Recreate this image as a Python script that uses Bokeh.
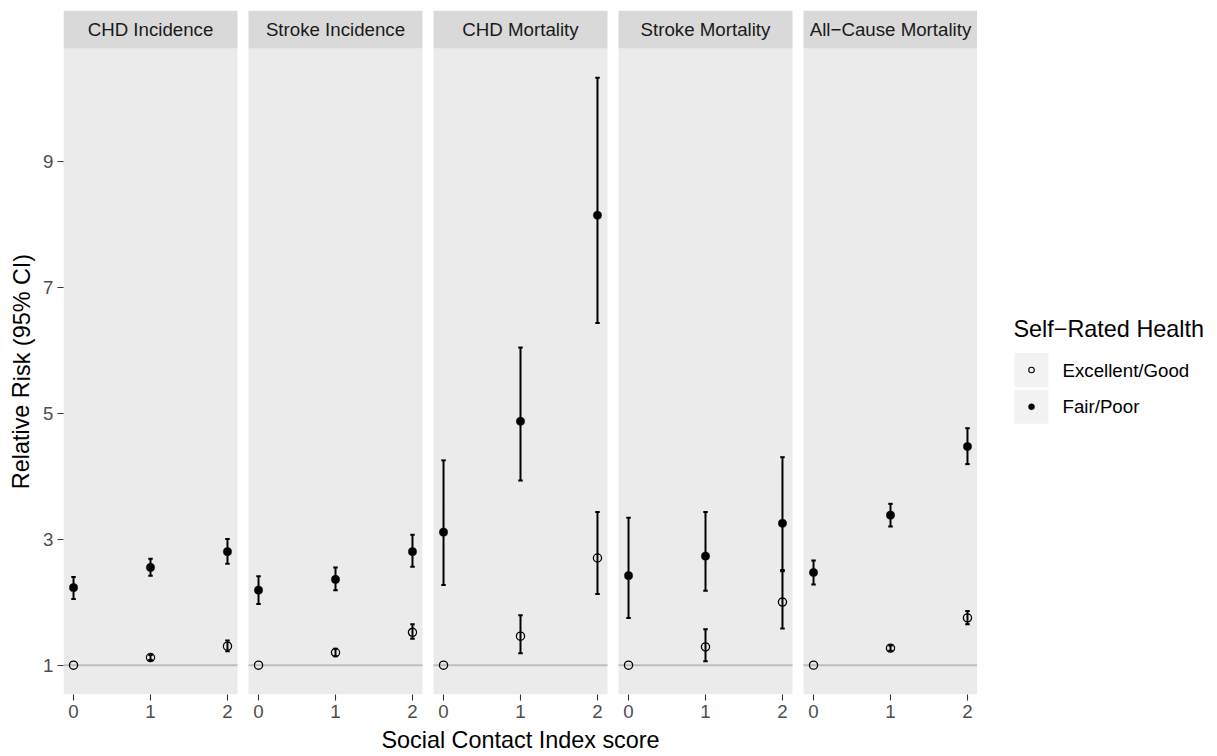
from bokeh.plotting import figure
from bokeh.layouts import row
from bokeh.models import Range1d, FixedTicker, Whisker, TeeHead, ColumnDataSource
from bokeh.core.properties import value
from bokeh.embed import file_html
from bokeh.resources import INLINE

# Outcomes (facets), Social Contact Index scores and self-rated health groups
outcomes = ["CHD Incidence", "Stroke Incidence", "CHD Mortality",
            "Stroke Mortality", "All\u2212Cause Mortality"]
scores = [0, 1, 2]
groups = ["Excellent/Good", "Fair/Poor"]

# Relative risk and 95% CI bounds: one row per outcome, one value per score
good_rr = [[1.00, 1.12, 1.30], [1.00, 1.20, 1.52], [1.00, 1.46, 2.70],
           [1.00, 1.29, 2.00], [1.00, 1.27, 1.75]]
good_lo = [[None, 1.08, 1.22], [None, 1.14, 1.42], [None, 1.19, 2.13],
           [None, 1.06, 1.58], [None, 1.23, 1.65]]
good_hi = [[None, 1.16, 1.39], [None, 1.26, 1.65], [None, 1.79, 3.43],
           [None, 1.57, 2.51], [None, 1.31, 1.86]]
poor_rr = [[2.23, 2.55, 2.80], [2.19, 2.36, 2.80], [3.11, 4.87, 8.14],
           [2.42, 2.73, 3.25], [2.47, 3.38, 4.47]]
poor_lo = [[2.05, 2.42, 2.61], [1.97, 2.19, 2.56], [2.27, 3.93, 6.43],
           [1.75, 2.18, 2.49], [2.28, 3.20, 4.19]]
poor_hi = [[2.40, 2.69, 3.00], [2.41, 2.55, 3.07], [4.25, 6.04, 10.32],
           [3.34, 3.43, 4.30], [2.66, 3.56, 4.76]]
reference_rr = 1.0
y_ticks = [1, 3, 5, 7, 9]

FONT = "Liberation Sans"
SMALL = "18.7px"
BIG = "23.4px"
PANEL_BG = "#EBEBEB"
STRIP_BG = "#D9D9D9"
PANEL_W, PANEL_H = 174, 646
STRIP_H = 38
TOP = 10
LEFT = 63
YTITLE_W = 36
GAP = 11
PAGE_W, PAGE_H = 1217, 756
CAP_W = 0.055  # errorbar cap width in score units
N = len(outcomes)

# per-facet x scale (5% padding) and shared y scale (5% padding)
all_vals = [reference_rr]
for tbl in (good_rr, good_lo, good_hi, poor_rr, poor_lo, poor_hi):
    for r in tbl:
        all_vals += [v for v in r if v is not None]
y_min, y_max = min(all_vals), max(all_vals)
y_pad = 0.05 * (y_max - y_min)
y_lo, y_hi = y_min - y_pad, y_max + y_pad
x_pad = 0.05 * (scores[-1] - scores[0] + CAP_W)
x_lo, x_hi = scores[0] - CAP_W / 2 - x_pad, scores[-1] + CAP_W / 2 + x_pad

# facets sit side by side on one x scale, each shifted by a fixed period
period = (x_hi - x_lo) * (PANEL_W + GAP) / PANEL_W
y_strip = y_hi + (y_hi - y_lo) * STRIP_H / PANEL_H
frame_w = N * PANEL_W + (N - 1) * GAP
frame_h = STRIP_H + PANEL_H
frame_bottom = TOP + frame_h
BOTTOM = PAGE_H - frame_bottom


def fx(k, s):
    return round(k * period + s, 9)


common = dict(output_backend="svg", toolbar_location=None, outline_line_color=None,
              min_border_top=TOP, min_border_bottom=BOTTOM, frame_height=frame_h)

p = figure(frame_width=frame_w,
           x_range=Range1d(fx(0, x_lo), fx(N - 1, x_hi)),
           y_range=Range1d(y_lo, y_strip),
           min_border_left=LEFT - YTITLE_W, min_border_right=0,
           background_fill_color="white", **common)
p.grid.visible = False

# facet panels and strips
p.quad(left=[fx(k, x_lo) for k in range(N)], right=[fx(k, x_hi) for k in range(N)],
       bottom=y_lo, top=y_hi, fill_color=PANEL_BG, line_color=None)
p.quad(left=[fx(k, x_lo) for k in range(N)], right=[fx(k, x_hi) for k in range(N)],
       bottom=y_hi, top=y_strip, fill_color=STRIP_BG, line_color=None)
p.text(x=[fx(k, (x_lo + x_hi) / 2) for k in range(N)],
       y=[(y_hi + y_strip) / 2] * N, text=outcomes, text_font=value(FONT),
       text_font_size=value(SMALL), text_color="#1A1A1A",
       text_align="center", text_baseline="middle")

# reference line at RR = 1 within each panel
p.segment(x0=[fx(k, x_lo) for k in range(N)], x1=[fx(k, x_hi) for k in range(N)],
          y0=reference_rr, y1=reference_rr, line_color="#BEBEBE", line_width=2)


def group_data(rr, lo, hi):
    pts = dict(x=[], y=[])
    bars = dict(x=[], lower=[], upper=[])
    for k in range(N):
        for j, s in enumerate(scores):
            pts["x"].append(fx(k, s))
            pts["y"].append(rr[k][j])
            if lo[k][j] is not None:
                bars["x"].append(fx(k, s))
                bars["lower"].append(lo[k][j])
                bars["upper"].append(hi[k][j])
    return ColumnDataSource(pts), ColumnDataSource(bars)


good_pts, good_bars = group_data(good_rr, good_lo, good_hi)
poor_pts, poor_bars = group_data(poor_rr, poor_lo, poor_hi)

p.scatter("x", "y", source=good_pts, size=8.2, marker="circle", fill_alpha=0,
          line_color="black", line_width=1.3)
p.scatter("x", "y", source=poor_pts, size=8.2, marker="circle",
          fill_color="black", line_color="black", line_width=0.5)
for src in (good_bars, poor_bars):
    p.add_layout(Whisker(source=src, base="x", lower="lower", upper="upper",
                         dimension="height", line_color="black", line_width=2,
                         level="annotation",
                         upper_head=TeeHead(size=4.5, line_color="black", line_width=2),
                         lower_head=TeeHead(size=4.5, line_color="black", line_width=2)))


def style_axis(ax):
    ax.axis_line_color = None
    ax.major_tick_line_color = "#333333"
    ax.major_tick_line_width = 1.1
    ax.major_tick_out = 6
    ax.major_tick_in = 0
    ax.minor_tick_line_color = None
    ax.major_label_text_font = FONT
    ax.major_label_text_font_size = SMALL
    ax.major_label_text_color = "#4D4D4D"
    ax.axis_label_text_font = FONT
    ax.axis_label_text_font_size = BIG
    ax.axis_label_text_font_style = "normal"
    ax.axis_label_text_color = "black"


x_ticks = [fx(k, s) for k in range(N) for s in scores]
p.xaxis.ticker = FixedTicker(ticks=x_ticks)
p.xaxis.major_label_overrides = {fx(k, s): str(s) for k in range(N) for s in scores}
p.xaxis.major_label_standoff = 4
p.xaxis.axis_label = "Social Contact Index score"
p.xaxis.axis_label_standoff = 6
style_axis(p.xaxis[0])

p.yaxis.ticker = FixedTicker(ticks=y_ticks)
p.yaxis.major_label_standoff = 4
p.yaxis.axis_label = None
style_axis(p.yaxis[0])

# y-axis title, centred on the panels (pixel-scaled strip on the left)
yt = figure(frame_width=YTITLE_W, x_range=Range1d(0, YTITLE_W),
            y_range=Range1d(frame_bottom, TOP), x_axis_type=None, y_axis_type=None,
            min_border_left=0, min_border_right=0, **common)
yt.grid.visible = False
yt.text(x=[21], y=[frame_bottom - PANEL_H / 2], text=["Relative Risk (95% CI)"],
        text_font=value(FONT), text_font_size=value(BIG), text_color="black",
        text_align="center", text_baseline="middle", angle=1.5707963)

# legend drawn in its own pixel-scaled figure to the right of the facets
LEG_X0 = LEFT + frame_w
leg = figure(frame_width=PAGE_W - LEG_X0,
             x_range=Range1d(LEG_X0, PAGE_W), y_range=Range1d(frame_bottom, TOP),
             x_axis_type=None, y_axis_type=None, min_border_left=0,
             min_border_right=0, **common)
leg.grid.visible = False
key_x = 1031
key_y = [369.5, 406.3]
leg.text(x=[1013], y=[328], text=["Self\u2212Rated Health"], text_font=value(FONT),
         text_font_size=value(BIG), text_color="black", text_align="left",
         text_baseline="middle")
leg.rect(x=[key_x] * 2, y=key_y, width=34, height=34, fill_color="#F2F2F2",
         line_color=None)
leg.scatter([key_x], [key_y[0]], size=5.5, marker="circle", fill_alpha=0,
            line_color="black", line_width=1.1)
leg.scatter([key_x], [key_y[1]], size=6, marker="circle", fill_color="black",
            line_color="black", line_width=0.5)
leg.text(x=[1062] * 2, y=key_y, text=groups, text_font=value(FONT),
         text_font_size=value(SMALL), text_color="black", text_align="left",
         text_baseline="middle")

layout = row(yt, p, leg)

open("out.html", "w").write(file_html(layout, INLINE))
